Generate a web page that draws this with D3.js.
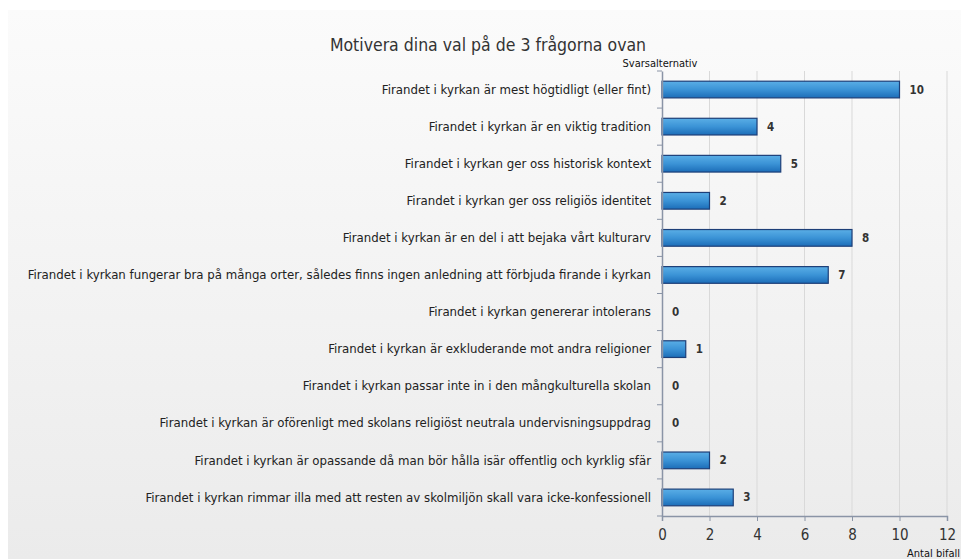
<!DOCTYPE html>
<html>
<head>
<meta charset="utf-8">
<script src="https://cdn.jsdelivr.net/npm/d3@7"></script>
<style>
  body { margin: 0; background: #fff; }
  svg { display: block; }
  text { font-family: "Liberation Sans Narrow", "Arial Narrow", "DejaVu Sans Condensed", sans-serif; }
</style>
</head>
<body>
<div id="chart"></div>
<script>
const categories = [
    "Firandet i kyrkan är mest högtidligt (eller fint)",
    "Firandet i kyrkan är en viktig tradition",
    "Firandet i kyrkan ger oss historisk kontext",
    "Firandet i kyrkan ger oss religiös identitet",
    "Firandet i kyrkan är en del i att bejaka vårt kulturarv",
    "Firandet i kyrkan fungerar bra på många orter, således finns ingen anledning att förbjuda firande i kyrkan",
    "Firandet i kyrkan genererar intolerans",
    "Firandet i kyrkan är exkluderande mot andra religioner",
    "Firandet i kyrkan passar inte in i den mångkulturella skolan",
    "Firandet i kyrkan är oförenligt med skolans religiöst neutrala undervisningsuppdrag",
    "Firandet i kyrkan är opassande då man bör hålla isär offentlig och kyrklig sfär",
    "Firandet i kyrkan rimmar illa med att resten av skolmiljön skall vara icke-konfessionell"
];
const values = [10, 4, 5, 2, 8, 7, 0, 1, 0, 0, 2, 3];
const xTicks = [0, 2, 4, 6, 8, 10, 12];

const title = "Motivera dina val på de 3 frågorna ovan";
const yTitle = "Svarsalternativ";
const xTitle = "Antal bifall";

const width = 961, height = 559;
const margin = { top: 71, right: 14, bottom: 43, left: 662 };

let rows = categories.map((c, i) => ({ name: c, value: values[i] }));

let svg = d3.select("#chart").append("svg")
    .attr("width", width)
    .attr("height", height);

let defs = svg.append("defs");

let bg = defs.append("linearGradient")
    .attr("id", "bg-grad")
    .attr("x1", 0).attr("y1", 0).attr("x2", 0).attr("y2", 1);
bg.append("stop").attr("offset", "0%").attr("stop-color", "#fbfbfb");
bg.append("stop").attr("offset", "100%").attr("stop-color", "#ebebeb");

let barGrad = defs.append("linearGradient")
    .attr("id", "bar-grad")
    .attr("x1", 0).attr("y1", 0).attr("x2", 0).attr("y2", 1);
barGrad.append("stop").attr("offset", "0%").attr("stop-color", "#5aaee6");
barGrad.append("stop").attr("offset", "50%").attr("stop-color", "#3b93d6");
barGrad.append("stop").attr("offset", "100%").attr("stop-color", "#1c6db8");

svg.append("rect")
    .attr("x", 8).attr("y", 10)
    .attr("width", width - 8).attr("height", height - 10)
    .attr("fill", "url(#bg-grad)");

let x = d3.scaleLinear()
    .domain([0, 12])
    .range([margin.left, width - margin.right]);

let y = d3.scaleBand()
    .domain(categories)
    .range([margin.top, height - margin.bottom])
    .paddingInner(0.55)
    .paddingOuter(0.275);

// grid lines
svg.append("g").selectAll("line")
    .data(xTicks.slice(1))
    .enter()
    .append("line")
    .attr("x1", d => x(d)).attr("x2", d => x(d))
    .attr("y1", margin.top).attr("y2", height - margin.bottom)
    .attr("stroke", "#d9d9d9")
    .attr("stroke-width", 1);

// bars (zero values get no bar)
svg.append("g").selectAll("rect")
    .data(rows.filter(d => d.value > 0))
    .enter()
    .append("rect")
    .attr("x", x(0))
    .attr("y", d => y(d.name))
    .attr("height", y.bandwidth())
    .attr("width", d => x(d.value) - x(0))
    .attr("fill", "url(#bar-grad)")
    .attr("stroke", "#1d3f78")
    .attr("stroke-width", 1.2);

// value labels
svg.append("g").selectAll("text")
    .data(rows)
    .enter()
    .append("text")
    .attr("x", d => x(d.value) + 10)
    .attr("y", d => y(d.name) + y.bandwidth() / 2)
    .attr("dy", "0.35em")
    .attr("font-size", 11.5)
    .attr("font-weight", "bold")
    .attr("fill", "#333")
    .text(d => d.value);

// x axis
let xAxis = svg.append("g")
    .attr("transform", `translate(0,${height - margin.bottom})`)
    .call(d3.axisBottom(x).tickValues(xTicks).tickSize(5).tickPadding(8));
xAxis.select(".domain").attr("stroke", "#8a94a6").attr("stroke-width", 1.5);
xAxis.selectAll(".tick line").attr("stroke", "#8a94a6");
xAxis.selectAll(".tick text")
    .attr("font-size", 15)
    .attr("fill", "#333")
    .style("font-family", "'Liberation Sans Narrow', 'Arial Narrow', 'DejaVu Sans Condensed', sans-serif");

// y axis
let yAxis = svg.append("g")
    .attr("transform", `translate(${margin.left},0)`)
    .call(d3.axisLeft(y).tickSize(0).tickPadding(11));
yAxis.select(".domain").attr("stroke", "#8a94a6").attr("stroke-width", 1.5);
yAxis.selectAll(".tick text")
    .attr("font-size", 13.1)
    .attr("fill", "#222")
    .style("font-family", "'Liberation Sans Narrow', 'Arial Narrow', 'DejaVu Sans Condensed', sans-serif");

// boundary ticks between categories
let step = y.step();
let boundaries = d3.range(categories.length + 1).map(i => margin.top + i * step);
svg.append("g").selectAll("line")
    .data(boundaries)
    .enter()
    .append("line")
    .attr("x1", margin.left - 5).attr("x2", margin.left)
    .attr("y1", d => d).attr("y2", d => d)
    .attr("stroke", "#8a94a6");

// titles
svg.append("text")
    .attr("x", 488).attr("y", 51)
    .attr("text-anchor", "middle")
    .attr("font-size", 17.5)
    .attr("fill", "#333")
    .text(title);

svg.append("text")
    .attr("x", 660).attr("y", 67)
    .attr("text-anchor", "middle")
    .attr("font-size", 11)
    .attr("fill", "#111")
    .text(yTitle);

svg.append("text")
    .attr("x", 960).attr("y", 557)
    .attr("text-anchor", "end")
    .attr("font-size", 11)
    .attr("fill", "#111")
    .text(xTitle);
</script>
</body>
</html>
